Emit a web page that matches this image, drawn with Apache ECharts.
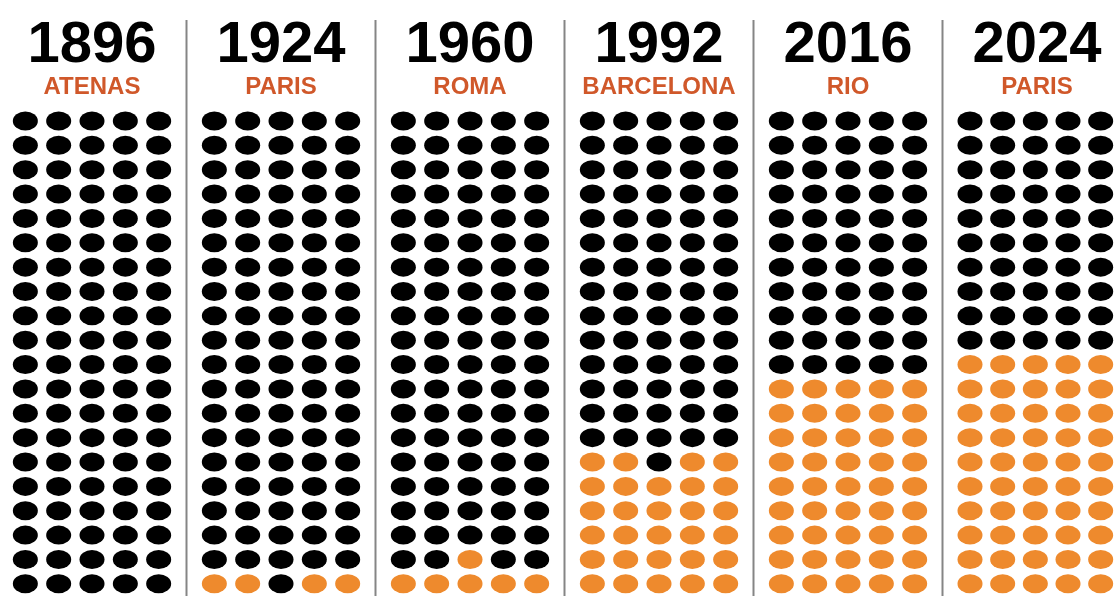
<!DOCTYPE html>
<html><head><meta charset="utf-8">
<script src="https://cdn.jsdelivr.net/npm/echarts@6/dist/echarts.min.js"></script>
<style>html,body{margin:0;padding:0;background:#fff}#c{width:1117px;height:596px}</style>
</head><body><div id="c"></div>
<script>
// ---- data ----
const years = ['1896', '1924', '1960', '1992', '2016', '2024'];
const cities = ['ATENAS', 'PARIS', 'ROMA', 'BARCELONA', 'RIO', 'PARIS'];
const womenDots = [0, 4, 6, 29, 45, 50];   // dots (of 100) coloured orange = women
const totalDots = [100, 100, 100, 100, 100, 100];
const columnsPerGroup = ['c1', 'c2', 'c3', 'c4', 'c5'];

// ---- layout / style ----
const firstCenter = 92, groupStep = 189, colStep = 33.33;
const firstRowY = 121, rowStep = 24.42;
const womenColor = '#EE8A2D', menColor = '#000000', cityColor = '#D0582A', sepColor = '#858585';

const chart = echarts.init(document.getElementById('c'), null, {renderer: 'canvas'});
const nCols = columnsPerGroup.length;

function partialCols(k) {
  // symmetric fill of an incomplete row
  const set = [];
  if (k % 2 === 1) set.push(2);
  const pairs = Math.floor(k / 2);
  const pairList = [[1, 3], [0, 4]];
  for (let p = 0; p < pairs; p++) set.push(...pairList[p]);
  return set;
}

const grids = [], xAxes = [], yAxes = [], series = [], graphics = [];
years.forEach((yr, g) => {
  const center = firstCenter + g * groupStep;
  const nRows = Math.ceil(totalDots[g] / nCols);
  const rowCats = Array.from({length: nRows}, (_, i) => 'r' + i);
  grids.push({left: center - colStep * nCols / 2, width: colStep * nCols,
              top: firstRowY - rowStep / 2, height: rowStep * nRows});
  xAxes.push({type: 'category', gridIndex: g, data: columnsPerGroup, show: false});
  yAxes.push({type: 'category', gridIndex: g, data: rowCats, show: false});
  const full = Math.floor(womenDots[g] / nCols);
  const rem = womenDots[g] % nCols;
  const pc = partialCols(rem);
  const data = [];
  for (let r = 0; r < nRows; r++) {
    for (let c = 0; c < nCols; c++) {
      const isWoman = r < full || (r === full && pc.includes(c));
      data.push({value: [c, r], itemStyle: {color: isWoman ? womenColor : menColor, opacity: 1}});
    }
  }
  series.push({type: 'scatter', xAxisIndex: g, yAxisIndex: g, symbol: 'circle',
               symbolSize: [25, 19], data, silent: true, animation: false,
               itemStyle: {opacity: 1}});
  graphics.push({type: 'text', x: center, y: 17,
    style: {text: yr, align: 'center', verticalAlign: 'top', fill: '#000',
            font: 'bold 58px "Liberation Sans", Arial, sans-serif', lineHeight: 58}});
  graphics.push({type: 'text', x: center, y: 75.5,
    style: {text: cities[g], align: 'center', verticalAlign: 'top', fill: cityColor,
            font: 'bold 24px "Liberation Sans", Arial, sans-serif', lineHeight: 24}});
  if (g > 0) {
    const sx = center - groupStep / 2;
    graphics.push({type: 'line', shape: {x1: sx, y1: 20, x2: sx, y2: 596},
                   style: {stroke: sepColor, lineWidth: 2}});
  }
});

chart.setOption({
  backgroundColor: '#ffffff',
  animation: false,
  grid: grids, xAxis: xAxes, yAxis: yAxes, series,
  graphic: graphics
});
</script></body></html>
